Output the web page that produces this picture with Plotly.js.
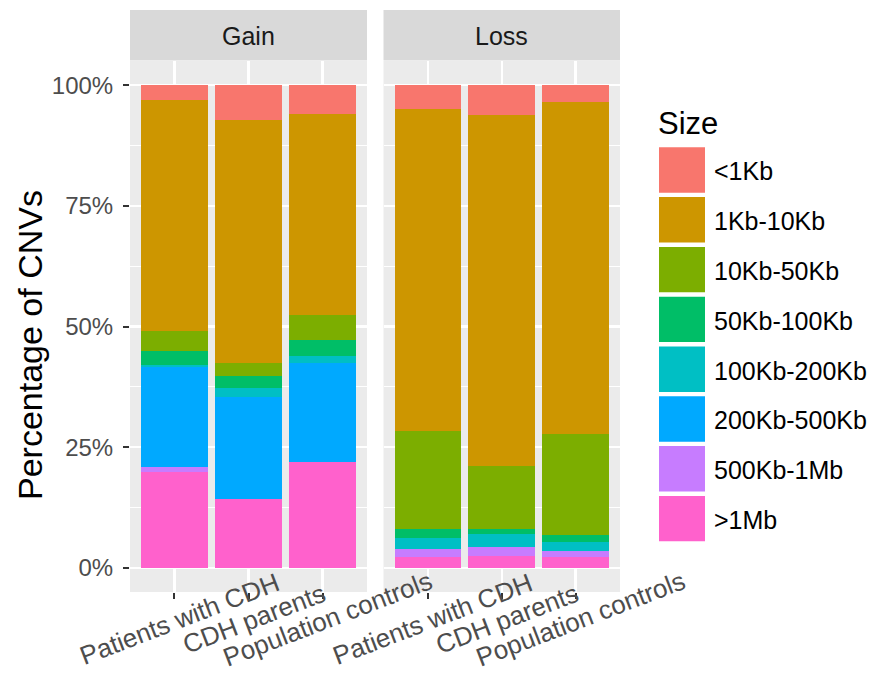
<!DOCTYPE html>
<html>
<head>
<meta charset="utf-8">
<script src="https://cdn.plot.ly/plotly-3.0.1.min.js"></script>
<style>html,body{margin:0;padding:0;background:#fff;}#chart{width:878px;height:679px;}</style>
</head>
<body>
<div id="chart"></div>
<script>
// ---- data (percent of CNVs) ----
const facets = ["Gain", "Loss"];
const groups = ["Patients with CDH", "CDH parents", "Population controls"];
const sizeLabels = ["<1Kb", "1Kb-10Kb", "10Kb-50Kb", "50Kb-100Kb", "100Kb-200Kb", "200Kb-500Kb", "500Kb-1Mb", ">1Mb"];
const sizeColors = ["#F8766D", "#CD9600", "#7CAE00", "#00BE67", "#00BFC4", "#00A9FF", "#C77CFF", "#FF61CC"];

const gain_lt1Kb     = [3.1, 7.2, 5.9];
const gain_1to10Kb   = [47.8, 50.3, 41.7];
const gain_10to50Kb  = [4.2, 2.7, 5.1];
const gain_50to100Kb = [2.9, 2.6, 3.4];
const gain_100to200Kb= [0.4, 1.9, 1.4];
const gain_200to500Kb= [20.8, 21.1, 20.6];
const gain_500Kbto1Mb= [0.9, 0.0, 0.0];
const gain_gt1Mb     = [19.9, 14.2, 21.9];

const loss_lt1Kb     = [5.0, 6.1, 3.4];
const loss_1to10Kb   = [66.6, 72.8, 68.9];
const loss_10to50Kb  = [20.3, 13.1, 20.9];
const loss_50to100Kb = [2.0, 1.0, 1.5];
const loss_100to200Kb= [2.1, 2.6, 1.9];
const loss_200to500Kb= [0.0, 0.0, 0.0];
const loss_500Kbto1Mb= [1.7, 1.9, 1.1];
const loss_gt1Mb     = [2.3, 2.5, 2.3];

const yTicks = [0, 25, 50, 75, 100];
const yTickText = ["0%", "25%", "50%", "75%", "100%"];
const yMinor = [12.5, 37.5, 62.5, 87.5];

const gainSeries = [gain_lt1Kb, gain_1to10Kb, gain_10to50Kb, gain_50to100Kb, gain_100to200Kb, gain_200to500Kb, gain_500Kbto1Mb, gain_gt1Mb];
const lossSeries = [loss_lt1Kb, loss_1to10Kb, loss_10to50Kb, loss_50to100Kb, loss_100to200Kb, loss_200to500Kb, loss_500Kbto1Mb, loss_gt1Mb];

// ---- geometry helpers (pixels -> paper) ----
const W = 878, H = 679;
const mL = 130, mR = 258, mT = 61, mB = 87;
const PW = W - mL - mR, PH = H - mT - mB;
const px = x => (x - mL) / PW;
const py = y => (mT + PH - y) / PH;

const FONT = "Liberation Sans, Arial, sans-serif";

// ---- traces: stack bottom-up (last size level at bottom) ----
const traces = [];
for (let i = sizeLabels.length - 1; i >= 0; i--) {
  traces.push({type: "bar", x: groups, y: gainSeries[i], name: sizeLabels[i], xaxis: "x", yaxis: "y",
    marker: {color: sizeColors[i], line: {width: 0}}, showlegend: false, hoverinfo: "name+y"});
  traces.push({type: "bar", x: groups, y: lossSeries[i], name: sizeLabels[i], xaxis: "x2", yaxis: "y",
    marker: {color: sizeColors[i], line: {width: 0}}, showlegend: false, hoverinfo: "name+y"});
}

const xCommon = {
  type: "category", range: [-0.6, 2.6], showgrid: true, gridcolor: "#FFFFFF", gridwidth: 2.5,
  ticks: "outside", ticklen: 6, tickwidth: 2, tickcolor: "#333333", showticklabels: false,
  zeroline: false, showline: false, fixedrange: true
};

const shapes = [];
const annotations = [];
const xrefs = ["x", "x2"];

// strips + rotated category labels
facets.forEach((f, k) => {
  shapes.push({type: "rect", xref: xrefs[k] + " domain", yref: "paper", x0: 0, x1: 1, y0: py(60.5), y1: py(10),
    fillcolor: "#D9D9D9", line: {width: 0}, layer: "below"});
  annotations.push({xref: xrefs[k] + " domain", yref: "paper", x: 0.5, y: py(36), text: f, showarrow: false,
    xanchor: "center", yanchor: "middle", font: {family: FONT, size: 25, color: "#1A1A1A"}});
  groups.forEach(g => {
    annotations.push({xref: xrefs[k], yref: "paper", x: g, y: py(619), xshift: 5, text: g, showarrow: false,
      textangle: -21, xanchor: "center", yanchor: "middle", font: {family: FONT, size: 26, color: "#4D4D4D"}});
  });
});

// y-axis title
annotations.push({xref: "paper", yref: "paper", x: px(30), y: py(345), text: "Percentage of CNVs", showarrow: false,
  textangle: -90, xanchor: "center", yanchor: "middle", font: {family: FONT, size: 34, color: "#000000"}});

// legend (ggplot style keys)
annotations.push({xref: "paper", yref: "paper", x: px(656), y: py(123), text: "Size", showarrow: false,
  xanchor: "left", yanchor: "middle", font: {family: FONT, size: 31, color: "#000000"}});
sizeLabels.forEach((s, i) => {
  const top = 147.3 + 49.8 * i;
  shapes.push({type: "rect", xref: "paper", yref: "paper", x0: px(659), x1: px(705), y0: py(top + 45.4), y1: py(top),
    fillcolor: sizeColors[i], line: {width: 0}});
  annotations.push({xref: "paper", yref: "paper", x: px(712), y: py(top + 24), text: s, showarrow: false,
    xanchor: "left", yanchor: "middle", font: {family: FONT, size: 25, color: "#000000"}});
});

const layout = {
  width: W, height: H,
  margin: {l: mL, r: mR, t: mT, b: mB, pad: 0},
  paper_bgcolor: "#FFFFFF", plot_bgcolor: "#EBEBEB",
  barmode: "stack", bargap: 0.1,
  showlegend: false,
  font: {family: FONT},
  xaxis: Object.assign({}, xCommon, {domain: [0, 237 / PW], anchor: "y"}),
  xaxis2: Object.assign({}, xCommon, {domain: [253.5 / PW, 1], anchor: "y"}),
  yaxis: {
    range: [-5, 105], tickmode: "array", tickvals: yTicks, ticktext: yTickText,
    showgrid: true, gridcolor: "#FFFFFF", gridwidth: 2.5,
    minor: {tickmode: "array", tickvals: yMinor, showgrid: true, gridcolor: "#FFFFFF", gridwidth: 1.2, ticks: ""},
    ticks: "outside", ticklen: 6, tickwidth: 2, tickcolor: "#333333", ticklabelstandoff: 5,
    tickfont: {family: FONT, size: 24, color: "#4D4D4D"},
    zeroline: false, showline: false, fixedrange: true
  },
  shapes: shapes,
  annotations: annotations
};

Plotly.newPlot("chart", traces, layout, {displayModeBar: false, staticPlot: true});
</script>
</body>
</html>
